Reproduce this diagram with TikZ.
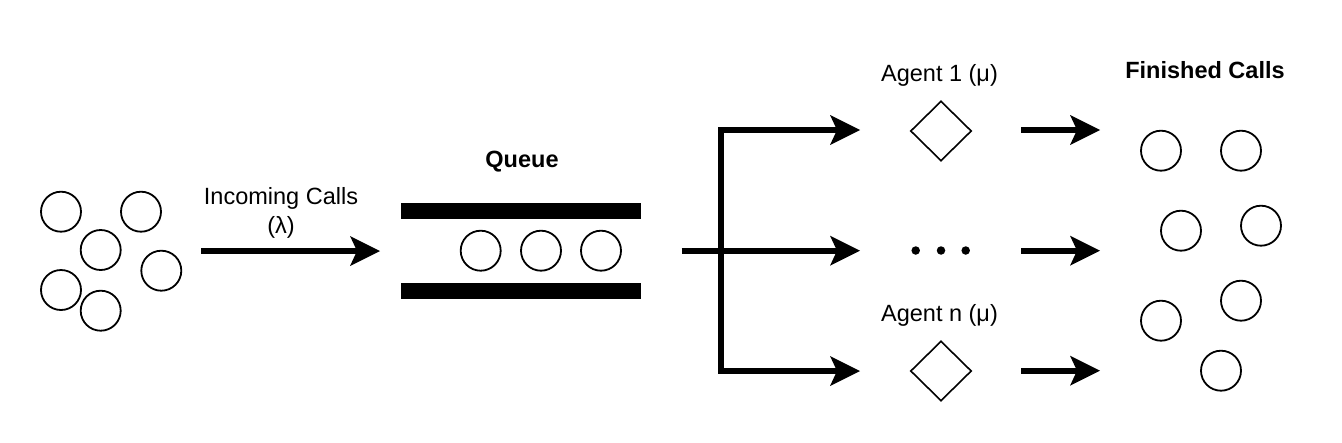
\documentclass[tikz,border=0pt]{standalone}
\usepackage{fontspec}
\setmainfont{Liberation Sans}
\usetikzlibrary{arrows.meta,shapes.geometric}
\begin{document}
\begin{tikzpicture}[x=1pt,y=-1pt,
  call/.style={circle,draw=black,line width=1.8pt,minimum size=40pt,inner sep=0pt},
  agentbox/.style={diamond,draw=black,line width=1.6pt,minimum width=61pt,minimum height=60pt,inner sep=0pt,aspect=1},
  dotmark/.style={circle,fill=black,minimum size=8.5pt,inner sep=0pt},
  bar/.style={fill=black,draw=none},
  lbl/.style={font=\fontsize{23.5}{29.3}\selectfont,inner sep=0pt,anchor=base},
  blbl/.style={lbl,font=\fontsize{23.5}{29.3}\selectfont\bfseries},
  arr/.style={line width=6pt,-{Stealth[length=30pt,width=30pt,inset=7pt,line width=0pt]}}
]
\useasboundingbox[fill=white] (0,0) rectangle (1342,442);

% incoming calls
\node[call] (c1) at (61,211.7) {};
\node[call] (c2) at (141,211.7) {};
\node[call] (c3) at (100.7,250) {};
\node[call] (c4) at (161.3,270.7) {};
\node[call] (c5) at (61,290) {};
\node[call] (c6) at (100.7,310.7) {};

\coordinate (inS) at (201,251);
\coordinate (inE) at (380,251);
\draw[arr] (inS) -- (inE);
\node[lbl,align=center] (inlbl) at (281,233.3) {Incoming Calls\\(λ)};

% queue
\node[blbl] (qlbl) at (522,167.7) {Queue};
\fill[bar] (401,203) rectangle (641,219);
\fill[bar] (401,283) rectangle (641,299);
\node[call] (q1) at (480.7,250.7) {};
\node[call] (q2) at (541,250.7) {};
\node[call] (q3) at (601,250.7) {};

% dispatch
\coordinate (qS) at (681.7,250.7);
\coordinate (split) at (721,250.7);
\coordinate (t1) at (860,130);
\coordinate (t2) at (860,250.7);
\coordinate (t3) at (860,371);
\draw[arr] (qS) -- (t2);
\draw[arr] (split) |- (t1);
\draw[arr] (split) |- (t3);

% agents
\node[agentbox] (a1) at (941,131) {};
\node[agentbox] (an) at (941,371) {};
\node[lbl] (a1lbl) at (939.5,81.7) {Agent 1 (μ)};
\node[lbl] (anlbl) at (939.5,321.5) {Agent n (μ)};
\node[dotmark] (d1) at (915.7,250.5) {};
\node[dotmark] (d2) at (941,250.5) {};
\node[dotmark] (d3) at (965.7,250.5) {};

% finished
\coordinate (f1s) at (1021,130);
\coordinate (f1e) at (1100,130);
\coordinate (f2s) at (1021,250.7);
\coordinate (f2e) at (1100,250.7);
\coordinate (f3s) at (1021,370.7);
\coordinate (f3e) at (1100,370.7);
\draw[arr] (f1s) -- (f1e);
\draw[arr] (f2s) -- (f2e);
\draw[arr] (f3s) -- (f3e);

\node[blbl] (flbl) at (1205,78.3) {Finished Calls};
\node[call] (e1) at (1161,150.7) {};
\node[call] (e2) at (1241,150.7) {};
\node[call] (e3) at (1181,230.7) {};
\node[call] (e4) at (1261,225.7) {};
\node[call] (e5) at (1241,300.7) {};
\node[call] (e6) at (1161,320.7) {};
\node[call] (e7) at (1221,370.7) {};
\end{tikzpicture}
\end{document}
